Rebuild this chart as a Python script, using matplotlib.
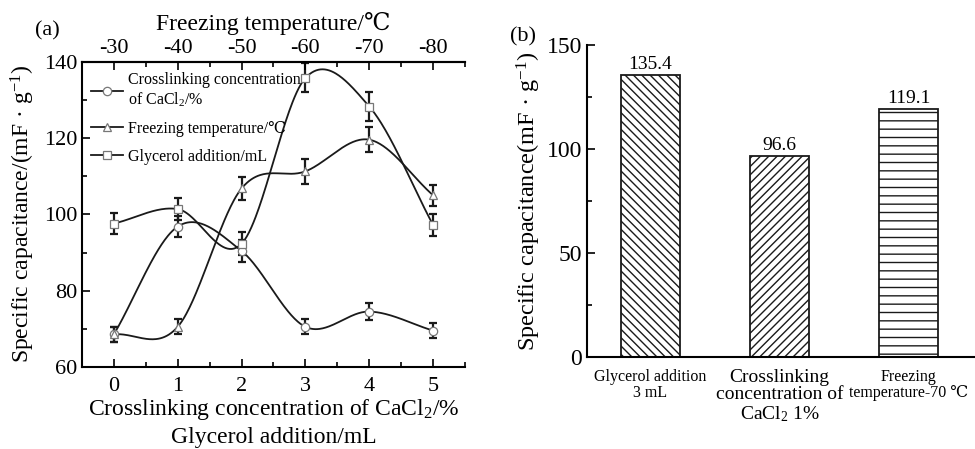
import numpy as np
import matplotlib
matplotlib.use('Agg')
import matplotlib.pyplot as plt
from matplotlib.ticker import MultipleLocator

plt.rcParams['font.family'] = ['Liberation Serif', 'DejaVu Serif', 'DejaVu Sans']
plt.rcParams['mathtext.fontset'] = 'custom'
plt.rcParams['mathtext.rm'] = 'Liberation Serif'
plt.rcParams['mathtext.it'] = 'Liberation Serif:italic'

# data
x_pos = [0, 1, 2, 3, 4, 5]
temp_labels = ['-30', '-40', '-50', '-60', '-70', '-80']
cacl2 = [68.5, 96.8, 90.4, 70.5, 74.5, 69.5]
cacl2_err = [2.0, 2.8, 2.8, 2.0, 2.2, 2.0]
freeze = [68.5, 70.5, 106.8, 111.3, 119.6, 105.0]
freeze_err = [2.0, 2.0, 3.0, 3.3, 3.3, 2.8]
glycerol = [97.6, 101.4, 92.3, 135.8, 128.3, 97.2]
glycerol_err = [2.8, 3.0, 3.0, 3.8, 3.8, 2.8]

bar_names = ['Glycerol addition\n3 mL', 'Crosslinking\nconcentration of\nCaCl$_2$ 1%',
             'Freezing\ntemperature-70 \u2103']
bar_vals = [135.4, 96.6, 119.1]
bar_hatch = ['\\\\\\\\', '////', '--']


def smooth(x, y, n=60):
    # Catmull-Rom style curve through the points (the smooth line of the figure)
    x = np.asarray(x, float)
    y = np.asarray(y, float)
    k = len(x)
    s = np.zeros(k)
    s[0] = (y[1] - y[0]) / (x[1] - x[0])
    s[-1] = (y[-1] - y[-2]) / (x[-1] - x[-2])
    s[1:-1] = (y[2:] - y[:-2]) / (x[2:] - x[:-2])
    xs_all, ys_all = [], []
    for i in range(k - 1):
        h = x[i + 1] - x[i]
        t = np.linspace(0, 1, n)
        h00 = 2 * t**3 - 3 * t**2 + 1
        h10 = t**3 - 2 * t**2 + t
        h01 = -2 * t**3 + 3 * t**2
        h11 = t**3 - t**2
        xs_all.append(x[i] + t * h)
        ys_all.append(h00 * y[i] + h10 * h * s[i] + h01 * y[i + 1] + h11 * h * s[i + 1])
    return np.concatenate(xs_all), np.concatenate(ys_all)


fig = plt.figure(figsize=(9.75, 4.49), dpi=100)

# ---- panel (a)
ax = fig.add_axes([0.084, 0.183, 0.393, 0.679])
series = [(cacl2, cacl2_err, 'o', 'Crosslinking concentration\nof CaCl$_2$/%'),
          (freeze, freeze_err, '^', 'Freezing temperature/\u2103'),
          (glycerol, glycerol_err, 's', 'Glycerol addition/mL')]
handles = []
for vals, err, m, lab in series:
    xs, ys = smooth(x_pos, vals)
    ax.plot(xs, ys, color='#1a1a1a', lw=1.3, zorder=2)
    ax.errorbar(x_pos, vals, yerr=err, fmt='none', ecolor='#1a1a1a', elinewidth=1.6,
                capsize=3, capthick=1.6, zorder=3)
    ax.plot(x_pos, vals, ls='none', marker=m, ms=6, mfc='white', mec='#777777', mew=0.9, zorder=4)
    h, = ax.plot([], [], color='#1a1a1a', lw=1.3, marker=m, ms=6, mfc='white', mec='#777777', mew=0.9)
    handles.append((h, lab))

ax.set_xlim(-0.5, 5.5)
ax.set_ylim(60, 140)
ax.set_xticks(x_pos)
ax.set_yticks([60, 80, 100, 120, 140])
ax.xaxis.set_minor_locator(MultipleLocator(0.5))
ax.yaxis.set_minor_locator(MultipleLocator(10))
ax.tick_params(which='both', direction='in', labelsize=16, width=1.2)
ax.tick_params(axis='x', pad=7)
ax.tick_params(which='major', length=6)
ax.tick_params(which='minor', length=3.5)
ax.spines['right'].set_visible(False)
for s in ['left', 'bottom', 'top']:
    ax.spines[s].set_linewidth(1.5)
ax.set_xlabel('Crosslinking concentration of CaCl$_2$/%\nGlycerol addition/mL', fontsize=17,
              linespacing=1.3, labelpad=1)
ax.set_ylabel('Specific capacitance/(mF \u00b7 g$^{-1}$)', fontsize=17, labelpad=5)

ax2 = ax.twiny()
ax2.set_xlim(ax.get_xlim())
ax2.set_xticks(x_pos)
ax2.set_xticklabels(temp_labels)
ax2.xaxis.set_minor_locator(MultipleLocator(0.5))
ax2.tick_params(which='both', direction='in', labelsize=16, width=1.2, pad=3)
ax2.tick_params(which='major', length=6)
ax2.tick_params(which='minor', length=3.5)
for s in ['right', 'left', 'bottom']:
    ax2.spines[s].set_visible(False)
ax2.spines['top'].set_linewidth(1.5)
ax2.set_xlabel('Freezing temperature/\u2103', fontsize=17, labelpad=6)

ax.legend([h for h, _ in handles], [l for _, l in handles], loc='upper left',
          bbox_to_anchor=(0.0, 1.0), frameon=False, fontsize=11.5, handlelength=2.0,
          handletextpad=0.3, borderaxespad=0.2, labelspacing=0.75)

fig.text(0.049, 0.931, '(a)', fontsize=16, ha='center', va='center')

# ---- panel (b)
bx = fig.add_axes([0.602, 0.204, 0.40, 0.696])
bars = bx.bar(range(3), bar_vals, width=0.46, color='white', edgecolor='#1a1a1a',
              linewidth=1.3, hatch=bar_hatch)
for b, v in zip(bars, bar_vals):
    bx.text(b.get_x() + b.get_width() / 2, v + 1, f'{v}', ha='center', va='bottom', fontsize=14)
bx.set_xlim(-0.49, 2.53)
bx.set_ylim(0, 150)
bx.set_yticks([0, 50, 100, 150])
bx.yaxis.set_minor_locator(MultipleLocator(25))
bx.set_xticks(range(3))
bx.set_xticklabels(bar_names, linespacing=1.05)
labs = bx.get_xticklabels()
labs[0].set_fontsize(11.5)
labs[1].set_fontsize(14)
labs[2].set_fontsize(11.5)
bx.tick_params(axis='x', length=0, pad=8)
bx.tick_params(axis='y', which='both', direction='in', labelsize=17, width=1.2)
bx.tick_params(axis='y', which='major', length=6)
bx.tick_params(axis='y', which='minor', length=3.5)
bx.spines['top'].set_visible(False)
bx.spines['right'].set_visible(False)
bx.spines['left'].set_linewidth(1.5)
bx.spines['bottom'].set_linewidth(1.5)
bx.set_ylabel('Specific capacitance(mF \u00b7 g$^{-1}$)', fontsize=17.5, labelpad=3)

fig.text(0.536, 0.918, '(b)', fontsize=16, ha='center', va='center')

fig.savefig('out.png', dpi=100)
